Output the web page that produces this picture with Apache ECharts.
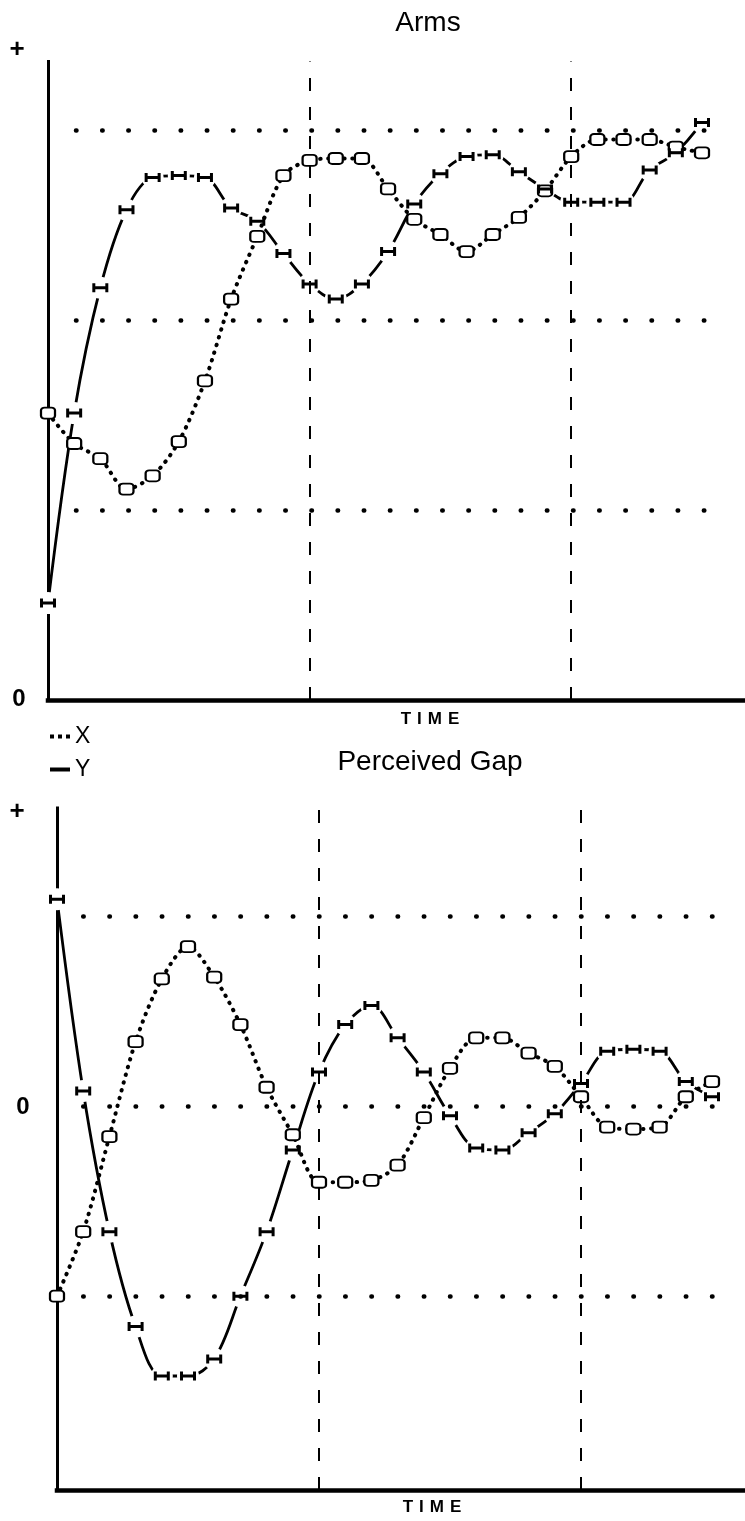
<!DOCTYPE html>
<html>
<head>
<meta charset="utf-8">
<script src="https://cdn.jsdelivr.net/npm/echarts@6/dist/echarts.min.js"></script>
<style>
html,body{margin:0;padding:0;background:#fff;}
#chart{width:745px;height:1521px;}
</style>
</head>
<body>
<div id="chart"></div>
<script>
// ---- data ----
const time = [0,1,2,3,4,5,6,7,8,9,10,11,12,13,14,15,16,17,18,19,20,21,22,23,24,25];

// Panel 1: Arms (0 = axis baseline, dotted reference levels at 1, 2, 3)
const armsX = [1.51,1.35,1.27,1.11,1.18,1.36,1.68,2.11,2.44,2.76,2.84,2.85,2.85,2.69,2.53,2.45,2.36,2.45,2.54,2.68,2.86,2.95,2.95,2.95,2.91,2.88];
const armsY = [0.51,1.51,2.17,2.58,2.75,2.76,2.75,2.59,2.52,2.35,2.19,2.11,2.19,2.36,2.61,2.77,2.86,2.87,2.78,2.69,2.62,2.62,2.62,2.79,2.88,3.04];

// Panel 2: Perceived Gap (0 = middle dotted level, dotted levels at -1, 0, 1)
const gapX = [-1.00,-0.66,-0.16,0.34,0.67,0.84,0.68,0.43,0.10,-0.15,-0.40,-0.40,-0.39,-0.31,-0.06,0.20,0.36,0.36,0.28,0.21,0.05,-0.11,-0.12,-0.11,0.05,0.13];
const gapY = [1.09,0.08,-0.66,-1.16,-1.42,-1.42,-1.33,-1.00,-0.66,-0.23,0.18,0.43,0.53,0.36,0.18,-0.05,-0.22,-0.23,-0.14,-0.04,0.12,0.29,0.30,0.29,0.13,0.05];

const armsRefLevels = [1, 2, 3];
const gapRefLevels = [1, 0, -1];
const phaseTimes = [10, 20];

const armsAxisLabels = ['+', '0'];
const gapAxisLabels = ['+', '0'];
const panelTitles = ['Arms', 'Perceived Gap'];
const timeAxisName = 'TIME';
const seriesNames = ['X', 'Y'];

// ---- styling / layout ----
const FONT = '"Liberation Sans", Arial, Helvetica, sans-serif';
const IBAR = 'path://M0,0H3V9H0Z M3,3H13V6H3Z M13,0H16V9H13Z';

const panels = [
  { left: 48, top: 61.6, width: 697, height: 638.4, ymin: 0, ymax: 3.36, xmax: 697 / 26.16,
    dotFrom: 1.07, dotTo: 25.5, dotGap: 26.16, xs: armsX, ys: armsY, refs: armsRefLevels },
  { left: 57, top: 808, width: 688, height: 682, ymin: -2.02, ymax: 1.57, xmax: 688 / 26.2,
    dotFrom: 1.0, dotTo: 25.5, dotGap: 26.2, xs: gapX, ys: gapY, refs: gapRefLevels }
];

const pair = vals => time.map((t, i) => [t, vals[i]]);

const grids = [], xAxes = [], yAxes = [], series = [];
panels.forEach((p, i) => {
  grids.push({ left: p.left, top: p.top, width: p.width, height: p.height, containLabel: false, show: false });
  xAxes.push({
    type: 'value', gridIndex: i, min: 0, max: p.xmax,
    axisLine: { show: true, onZero: false, lineStyle: { color: '#000', width: 4.5, cap: 'square' } },
    axisTick: { show: false }, axisLabel: { show: false }, splitLine: { show: false }
  });
  yAxes.push({
    type: 'value', gridIndex: i, min: p.ymin, max: p.ymax,
    axisLine: { show: true, onZero: false, lineStyle: { color: '#000', width: 3, cap: 'square' } },
    axisTick: { show: false }, axisLabel: { show: false }, splitLine: { show: false }
  });

  // Y curve (solid)
  series.push({
    type: 'line', name: seriesNames[1], xAxisIndex: i, yAxisIndex: i,
    data: pair(p.ys), smooth: 0.35, showSymbol: false,
    lineStyle: { color: '#000', width: 2.8 },
    itemStyle: { color: '#000' },
    z: 2, zlevel: 0, silent: true, animation: false,
    markLine: {
      silent: true, symbol: 'none', label: { show: false },
      lineStyle: { color: '#000', width: 2, type: [13, 16] },
      data: phaseTimes.map(t => ({ xAxis: t }))
    }
  });
  // white gaps where the Y curve meets its markers
  series.push({
    type: 'scatter', name: 'Y gap', xAxisIndex: i, yAxisIndex: i,
    data: pair(p.ys), symbol: 'circle', symbolSize: 22,
    itemStyle: { color: '#ffffff', opacity: 1, borderWidth: 0 },
    emphasis: { disabled: true },
    z: 3, zlevel: 0, silent: true, animation: false
  });
  // X curve (dotted) with square markers
  series.push({
    type: 'line', name: seriesNames[0], xAxisIndex: i, yAxisIndex: i,
    data: pair(p.xs), smooth: 0.3, showAllSymbol: true,
    symbol: 'emptyRoundRect', symbolSize: [14, 11],
    itemStyle: { color: '#000', borderColor: '#000', borderWidth: 2.6 },
    lineStyle: { color: '#000', width: 4, type: [0.5, 7.5], cap: 'round' },
    z: 4, zlevel: 0, silent: true, animation: false,
    markLine: {
      silent: true, symbol: 'none', label: { show: false },
      lineStyle: { color: '#000', width: 4.5, type: [0.5, p.dotGap - 0.5], cap: 'round' },
      data: p.refs.map(v => [{ coord: [p.dotFrom, v] }, { coord: [p.dotTo, v] }])
    }
  });
  // Y markers
  series.push({
    type: 'scatter', name: seriesNames[1], xAxisIndex: i, yAxisIndex: i,
    data: pair(p.ys), symbol: IBAR, symbolSize: [16, 9],
    itemStyle: { color: '#000', opacity: 1 },
    emphasis: { disabled: true },
    z: 5, zlevel: 0, silent: true, animation: false
  });
});

const txt = (text, x, y, font, align) => ({
  type: 'text', x: x, y: y, silent: true,
  style: { text: text, font: font, fill: '#000', textAlign: align || 'center', textVerticalAlign: 'middle', verticalAlign: 'middle' }
});

// letter-spaced axis name, drawn as rich text (each letter padded)
const spacedTxt = (text, x, y) => ({
  type: 'text', x: x, y: y, silent: true,
  style: {
    text: text.split('').map(ch => '{s|' + ch + '}').join(''),
    fontSize: 17, fontWeight: 'bold', fontFamily: FONT,
    rich: { s: { padding: [0, 3, 0, 3], fontSize: 17, fontWeight: 'bold', fontFamily: FONT, fill: '#000' } },
    fill: '#000', textAlign: 'center', textVerticalAlign: 'middle', verticalAlign: 'middle'
  }
});

const graphic = [
  txt(panelTitles[0], 428, 23, '28px ' + FONT),
  txt(armsAxisLabels[0], 17, 50, 'bold 26px ' + FONT),
  txt(armsAxisLabels[1], 19, 699, 'bold 24px ' + FONT),
  spacedTxt(timeAxisName, 430, 719),
  txt(panelTitles[1], 430, 762, '28px ' + FONT),
  txt(gapAxisLabels[0], 17, 812, 'bold 26px ' + FONT),
  txt(gapAxisLabels[1], 23, 1107, 'bold 24px ' + FONT),
  spacedTxt(timeAxisName, 432, 1507)
];

const chart = echarts.init(document.getElementById('chart'), null, { renderer: 'canvas' });
chart.setOption({
  backgroundColor: '#fff',
  animation: false,
  grid: grids,
  xAxis: xAxes,
  yAxis: yAxes,
  legend: {
    orient: 'vertical', left: 50, top: 725, itemGap: 10,
    itemWidth: 20, itemHeight: 4, selectedMode: false, padding: 0,
    textStyle: { fontSize: 23, fontFamily: FONT, color: '#000' },
    data: [
      { name: seriesNames[0], icon: 'path://M0,0h4v4h-4z M8,0h4v4h-4z M16,0h4v4h-4z', itemStyle: { color: '#000', borderWidth: 0 } },
      { name: seriesNames[1], icon: 'path://M0,0h20v4h-20z', itemStyle: { color: '#000', borderWidth: 0 } }
    ]
  },
  graphic: graphic,
  series: series
});
</script>
</body>
</html>
